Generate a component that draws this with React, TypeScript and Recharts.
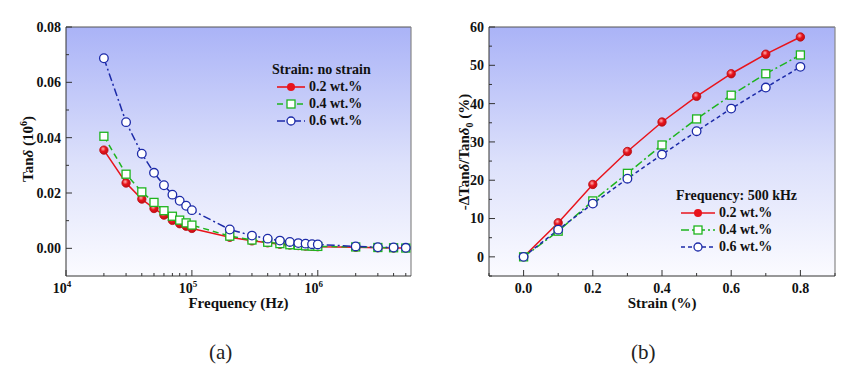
import React from 'react';
import { LineChart, Line, XAxis, YAxis, CartesianGrid, ReferenceLine, Legend } from 'recharts';

// (a) loss tangent vs frequency, no strain
const freq = [2e4, 3e4, 4e4, 5e4, 6e4, 7e4, 8e4, 9e4, 1e5, 2e5, 3e5, 4e5, 5e5, 6e5, 7e5, 8e5, 9e5, 1e6, 2e6, 3e6, 4e6, 5e6];
const tan02 = [0.0355, 0.0236, 0.0178, 0.0144, 0.012, 0.0101, 0.0089, 0.008, 0.0072, 0.004, 0.0027, 0.002, 0.0015, 0.0012, 0.001, 0.0008, 0.0007, 0.0006, 0.0004, 0.0002, 0.0001, 0.0001];
const tan04 = [0.0405, 0.0268, 0.0204, 0.0166, 0.0136, 0.0116, 0.0102, 0.0092, 0.0084, 0.0044, 0.003, 0.0022, 0.0017, 0.0013, 0.0011, 0.0009, 0.0008, 0.0007, 0.0005, 0.0003, 0.0002, 0.0001];
const tan06 = [0.0687, 0.0456, 0.0342, 0.0273, 0.0228, 0.0194, 0.0172, 0.0154, 0.0138, 0.0068, 0.0046, 0.0035, 0.0028, 0.0023, 0.0019, 0.0017, 0.0015, 0.0014, 0.0007, 0.0004, 0.0003, 0.0002];
const freqTicks = [1e4, 2e4, 3e4, 4e4, 5e4, 6e4, 7e4, 8e4, 9e4, 1e5, 2e5, 3e5, 4e5, 5e5, 6e5, 7e5, 8e5, 9e5, 1e6, 2e6, 3e6, 4e6, 5e6];
const tanTicks = [0, 0.01, 0.02, 0.03, 0.04, 0.05, 0.06, 0.07, 0.08];

// (b) relative change vs strain at 500 kHz
const strain = [0, 0.1, 0.2, 0.3, 0.4, 0.5, 0.6, 0.7, 0.8];
const d02 = [0, 8.9, 18.9, 27.5, 35.2, 41.9, 47.8, 52.9, 57.4];
const d04 = [0, 6.7, 14.6, 21.8, 29.2, 36, 42.2, 47.8, 52.7];
const d06 = [0, 7.1, 13.9, 20.4, 26.7, 32.8, 38.7, 44.2, 49.6];
const strainTicks = [-0.1, 0, 0.1, 0.2, 0.3, 0.4, 0.5, 0.6, 0.7, 0.8, 0.9];
const pctTicks = [-5, 0, 5, 10, 15, 20, 25, 30, 35, 40, 45, 50, 55, 60];

const seriesNames = ['0.2 wt.%', '0.4 wt.%', '0.6 wt.%'];

const dataA = freq.map((f, i) => ({ f, a: tan02[i], b: tan04[i], c: tan06[i] }));
const dataB = strain.map((s, i) => ({ s, a: d02[i], b: d04[i], c: d06[i] }));

const FONT = '"Liberation Serif", "DejaVu Serif", serif';
const RED = '#e8141c';
const GREEN = '#1eb41e';
const BLUE = '#1c2aa8';
const AX = '#333';

const RedDot = (p: any) => (
  <circle key={`r${p.index}`} cx={p.cx} cy={p.cy} r={4.2} fill="url(#ball)" stroke="#b80d12" strokeWidth={0.8} />
);
const GreenDot = (p: any) => (
  <rect key={`g${p.index}`} x={p.cx - 4} y={p.cy - 4} width={8} height={8} fill="#fff" stroke={GREEN} strokeWidth={1.3} />
);
const BlueDot = (p: any) => (
  <circle key={`b${p.index}`} cx={p.cx} cy={p.cy} r={4.3} fill="#fff" stroke={BLUE} strokeWidth={1.3} />
);

const near = (v: number, step: number) => Math.abs(v / step - Math.round(v / step)) < 1e-6;

const LogTick = (props: any) => {
  const { x, y, payload } = props;
  const lg = Math.log10(payload.value);
  const major = Math.abs(lg - Math.round(lg)) < 1e-6;
  return (
    <g>
      <line x1={x} x2={x} y1={y} y2={y - (major ? 6 : 3)} stroke={AX} />
      {major && (
        <text x={x - 4} y={y + 17} textAnchor="middle" fontFamily={FONT} fontWeight="bold" fontSize={14} fill="#111">
          10<tspan dy={-6} fontSize={9}>{Math.round(lg)}</tspan>
        </text>
      )}
    </g>
  );
};

const makeXTick = (step: number, fmt: (v: number) => string) => (props: any) => {
  const { x, y, payload } = props;
  const v = payload.value;
  const major = near(v, step) && v >= 0 && v <= 0.8 + 1e-9;
  return (
    <g>
      <line x1={x} x2={x} y1={y} y2={y - (major ? 6 : 3)} stroke={AX} />
      {major && (
        <text x={x} y={y + 16.5} textAnchor="middle" fontFamily={FONT} fontWeight="bold" fontSize={14} fill="#111">
          {fmt(v)}
        </text>
      )}
    </g>
  );
};

const makeYTick = (step: number, fmt: (v: number) => string, min: number) => (props: any) => {
  const { x, y, payload } = props;
  const v = payload.value;
  const major = near(v, step) && v >= min;
  return (
    <g>
      <line x1={x} x2={x + (major ? 6 : 3)} y1={y} y2={y} stroke={AX} />
      {major && (
        <text x={x - 5} y={y} dy="0.35em" textAnchor="end" fontFamily={FONT} fontWeight="bold" fontSize={14} fill="#111">
          {fmt(v)}
        </text>
      )}
    </g>
  );
};

const StrainTick = makeXTick(0.2, (v) => v.toFixed(1));
const TanTick = makeYTick(0.02, (v) => v.toFixed(2), 0);
const PctTick = makeYTick(10, (v) => String(Math.round(v)), 0);

const legendItem = (dashes: string[], title: string, lineW: number) => () => (
  <div style={{ fontFamily: FONT, fontWeight: 'bold', fontSize: 14, color: '#111', lineHeight: '17px' }}>
    <div>{title}</div>
    {seriesNames.map((n, i) => (
      <div key={n} style={{ display: 'flex', alignItems: 'center', paddingLeft: 5 }}>
        <svg width={lineW} height={12} style={{ marginRight: 4 }}>
          <line x1={0} x2={lineW} y1={6} y2={6} stroke={[RED, GREEN, BLUE][i]} strokeWidth={1.6} strokeDasharray={dashes[i]} />
          {i === 0 && <circle cx={lineW / 2} cy={6} r={4} fill={RED} />}
          {i === 1 && <rect x={lineW / 2 - 4} y={2} width={8} height={8} fill="#fff" stroke={GREEN} strokeWidth={1.3} />}
          {i === 2 && <circle cx={lineW / 2} cy={6} r={4} fill="#fff" stroke={BLUE} strokeWidth={1.3} />}
        </svg>
        <span>{n}</span>
      </div>
    ))}
  </div>
);

const Defs = () => (
  <defs>
    <linearGradient id="bg" x1="0" y1="0" x2="0" y2="1">
      <stop offset="0" stopColor="#aab3f7" />
      <stop offset="0.55" stopColor="#dde1fb" />
      <stop offset="1" stopColor="#fbfbff" />
    </linearGradient>
    <radialGradient id="ball" cx="0.4" cy="0.35" r="0.7">
      <stop offset="0" stopColor="#ffb0b0" />
      <stop offset="0.45" stopColor={RED} />
      <stop offset="1" stopColor="#c00d12" />
    </radialGradient>
  </defs>
);

export default function App() {
  return (
    <div style={{ position: 'fixed', left: 0, top: 0, width: 864, height: 380, background: '#fff', fontFamily: FONT }}>
      <div style={{ position: 'absolute', left: 0, top: 0 }}>
        <LineChart width={430} height={380} data={dataA} margin={{ top: 27, left: 16, right: 19, bottom: 74 }}>
          <Defs />
          <CartesianGrid fill="url(#bg)" horizontal={false} vertical={false} />
          <XAxis
            dataKey="f"
            type="number"
            scale="log"
            domain={[1e4, 5.5e6]}
            allowDataOverflow
            ticks={freqTicks}
            interval={0}
            tick={LogTick}
            tickSize={0}
            tickMargin={0}
            tickLine={false}
            height={30}
            stroke={AX}
            label={{ value: 'Frequency (Hz)', position: 'insideBottom', offset: -2, fontFamily: FONT, fontWeight: 'bold', fontSize: 15, fill: '#111' }}
          />
          <YAxis
            type="number"
            domain={[-0.01, 0.08]}
            allowDataOverflow
            ticks={tanTicks}
            interval={0}
            tick={TanTick}
            tickSize={0}
            tickMargin={0}
            tickLine={false}
            width={50}
            stroke={AX}
            label={() => (
              <text transform={`translate(33, 149) rotate(-90)`} textAnchor="middle" fontFamily={FONT} fontWeight="bold" fontSize={15} fill="#111">
                Tan<tspan fontStyle="italic">δ</tspan> (10<tspan dy={-6} fontSize={10}>6</tspan><tspan dy={6}>)</tspan>
              </text>
            )}
          />
          <ReferenceLine y={0.08} stroke="#555" strokeWidth={1.2} />
          <ReferenceLine x={5.5e6} stroke="#888" strokeWidth={1.2} />
          <Legend layout="vertical" align="center" verticalAlign="middle" wrapperStyle={{ left: 272, top: 61, width: 130 }} content={legendItem(['', '6 4', '8 3 2 3'], 'Strain: no strain', 28)} />
          <Line dataKey="a" name={seriesNames[0]} stroke={RED} strokeWidth={1.5} dot={RedDot} isAnimationActive={false} />
          <Line dataKey="b" name={seriesNames[1]} stroke={GREEN} strokeWidth={1.5} strokeDasharray="6 4" dot={GreenDot} isAnimationActive={false} />
          <Line dataKey="c" name={seriesNames[2]} stroke={BLUE} strokeWidth={1.5} strokeDasharray="8 3 2 3" dot={BlueDot} isAnimationActive={false} />
        </LineChart>
      </div>
      <div style={{ position: 'absolute', left: 430, top: 0 }}>
        <LineChart width={434} height={380} data={dataB} margin={{ top: 27, left: 14, right: 29, bottom: 74 }}>
          <Defs />
          <CartesianGrid fill="url(#bg)" horizontal={false} vertical={false} />
          <XAxis
            dataKey="s"
            type="number"
            domain={[-0.1, 0.9]}
            allowDataOverflow
            ticks={strainTicks}
            interval={0}
            tick={StrainTick}
            tickSize={0}
            tickMargin={0}
            tickLine={false}
            height={30}
            stroke={AX}
            label={{ value: 'Strain (%)', position: 'insideBottom', offset: -2, fontFamily: FONT, fontWeight: 'bold', fontSize: 15, fill: '#111' }}
          />
          <YAxis
            type="number"
            domain={[-5, 60]}
            allowDataOverflow
            ticks={pctTicks}
            interval={0}
            tick={PctTick}
            tickSize={0}
            tickMargin={0}
            tickLine={false}
            width={45}
            stroke={AX}
            label={() => (
              <text transform={`translate(39, 152) rotate(-90)`} textAnchor="middle" fontFamily={FONT} fontWeight="bold" fontSize={15} fill="#111">
                -ΔTan<tspan fontStyle="italic">δ</tspan>/Tan<tspan fontStyle="italic">δ</tspan><tspan dy={4} fontSize={10}>0</tspan><tspan dy={-4}> (%)</tspan>
              </text>
            )}
          />
          <ReferenceLine y={60} stroke="#555" strokeWidth={1.2} />
          <ReferenceLine x={0.9} stroke="#888" strokeWidth={1.2} />
          <Legend layout="vertical" align="center" verticalAlign="middle" wrapperStyle={{ left: 246, top: 187, width: 140 }} content={legendItem(['', '8 3 2 3', '4 3'], 'Frequency: 500 kHz', 34)} />
          <Line dataKey="a" name={seriesNames[0]} stroke={RED} strokeWidth={1.5} dot={RedDot} isAnimationActive={false} />
          <Line dataKey="b" name={seriesNames[1]} stroke={GREEN} strokeWidth={1.5} strokeDasharray="8 3 2 3" dot={GreenDot} isAnimationActive={false} />
          <Line dataKey="c" name={seriesNames[2]} stroke={BLUE} strokeWidth={1.5} strokeDasharray="4 3" dot={BlueDot} isAnimationActive={false} />
        </LineChart>
      </div>
      <div style={{ position: 'absolute', left: 209, top: 340, fontSize: 21, color: '#222' }}>(a)</div>
      <div style={{ position: 'absolute', left: 631, top: 340, fontSize: 21, color: '#222' }}>(b)</div>
    </div>
  );
}
